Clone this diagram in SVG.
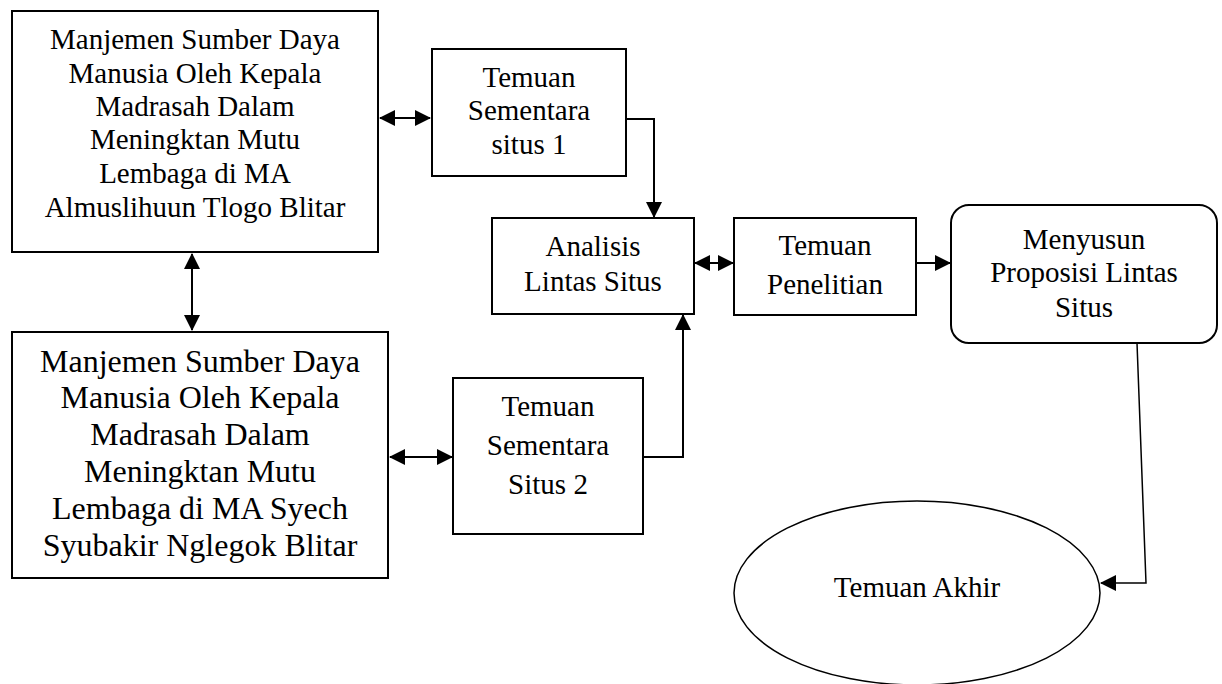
<svg xmlns="http://www.w3.org/2000/svg" width="1222" height="684" viewBox="0 0 1222 684">
<style>
.box{fill:#fff;stroke:#000;stroke-width:2}
.t{font-family:"Liberation Serif","Times New Roman",serif;font-size:29px;fill:#000;text-anchor:middle}
.t2{font-size:32px}
.c{fill:none;stroke:#000;stroke-width:2}
.thin{stroke-width:1.5}
</style>
<defs>
<marker id="ah" markerUnits="userSpaceOnUse" markerWidth="16" markerHeight="16" refX="15" refY="8" orient="auto-start-reverse" viewBox="0 0 16 16">
<path d="M0,0 L16,8 L0,16 Z" fill="#000"/>
</marker>
</defs>
<rect width="1222" height="684" fill="#fff"/>
<g id="connectors">
<line class="c" x1="380" y1="118" x2="430" y2="118" marker-start="url(#ah)" marker-end="url(#ah)"/>
<line class="c" x1="192" y1="254" x2="192" y2="330" marker-start="url(#ah)" marker-end="url(#ah)"/>
<polyline class="c" points="626,119 654,119 654,217" marker-end="url(#ah)"/>
<polyline class="c" points="643,457 683,457 683,315" marker-end="url(#ah)"/>
<line class="c" x1="390" y1="457" x2="452" y2="457" marker-start="url(#ah)" marker-end="url(#ah)"/>
<line class="c" x1="695" y1="263" x2="733" y2="263" marker-start="url(#ah)" marker-end="url(#ah)"/>
<line class="c" x1="902" y1="263" x2="950" y2="263" marker-end="url(#ah)"/>
<polyline class="c thin" points="1137,343 1146,583 1101,583" marker-end="url(#ah)"/>
</g>
<g id="node-ma1">
<rect class="box" x="12" y="11" width="366" height="241"/>
<text class="t"><tspan x="195" y="49">Manjemen Sumber Daya</tspan><tspan x="195" y="83">Manusia Oleh Kepala</tspan><tspan x="195" y="116">Madrasah Dalam</tspan><tspan x="195" y="149">Meningktan Mutu</tspan><tspan x="195" y="183">Lembaga di MA</tspan><tspan x="195" y="217">Almuslihuun Tlogo Blitar</tspan></text>
</g>
<g id="node-ma2">
<rect class="box" x="12" y="332" width="376" height="246"/>
<text class="t t2"><tspan x="200" y="372">Manjemen Sumber Daya</tspan><tspan x="200" y="408">Manusia Oleh Kepala</tspan><tspan x="200" y="445">Madrasah Dalam</tspan><tspan x="200" y="482">Meningktan Mutu</tspan><tspan x="200" y="519">Lembaga di MA Syech</tspan><tspan x="200" y="556">Syubakir Nglegok Blitar</tspan></text>
</g>
<g id="node-situs1">
<rect class="box" x="432" y="49" width="194" height="127"/>
<text class="t"><tspan x="529" y="87">Temuan</tspan><tspan x="529" y="120">Sementara</tspan><tspan x="529" y="154">situs 1</tspan></text>
</g>
<g id="node-situs2">
<rect class="box" x="453" y="378" width="190" height="156"/>
<text class="t"><tspan x="548" y="416">Temuan</tspan><tspan x="548" y="455">Sementara</tspan><tspan x="548" y="494">Situs 2</tspan></text>
</g>
<g id="node-analisis">
<rect class="box" x="492" y="218" width="202" height="96"/>
<text class="t"><tspan x="593" y="256">Analisis</tspan><tspan x="593" y="291">Lintas Situs</tspan></text>
</g>
<g id="node-penelitian">
<rect class="box" x="734" y="218" width="182" height="97"/>
<text class="t"><tspan x="825" y="255">Temuan</tspan><tspan x="825" y="294">Penelitian</tspan></text>
</g>
<g id="node-menyusun">
<rect class="box" x="951" y="205" width="266" height="138" rx="18" ry="18"/>
<text class="t"><tspan x="1084" y="249">Menyusun</tspan><tspan x="1084" y="282">Proposisi Lintas</tspan><tspan x="1084" y="317">Situs</tspan></text>
</g>
<g id="node-akhir">
<ellipse class="box" style="stroke-width:1.5" cx="917" cy="593" rx="183" ry="92"/>
<text class="t" x="917" y="597">Temuan Akhir</text>
</g>
</svg>
